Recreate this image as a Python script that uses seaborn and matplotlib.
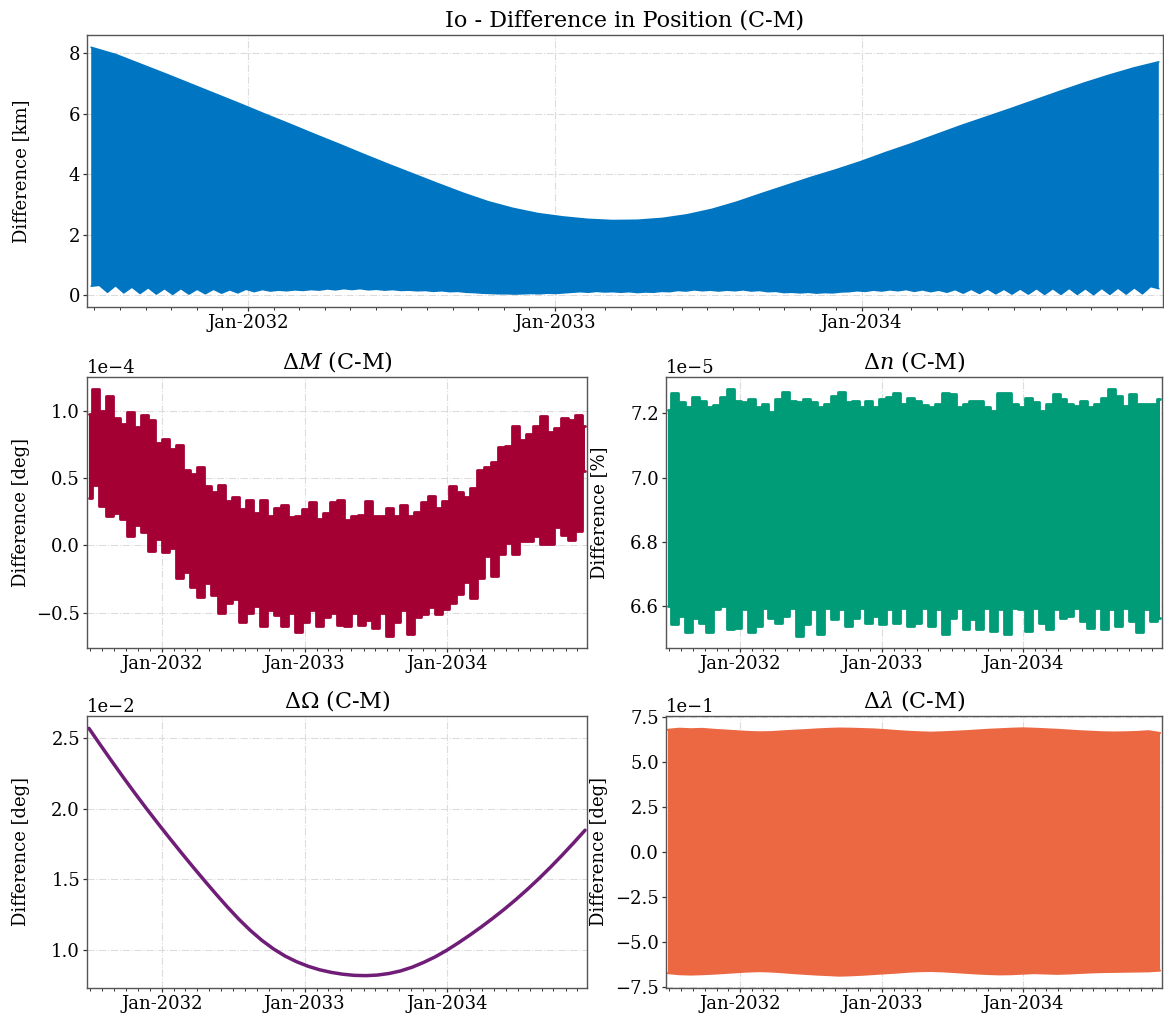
import numpy as np
import pandas as pd
import matplotlib
matplotlib.use("Agg")
import matplotlib.pyplot as plt
import matplotlib.dates as mdates
import seaborn as sns

# ---------------- data ----------------
START, END = "2031-06-28", "2034-12-21"

# Position difference [km]: upper envelope and lower envelope of the fast oscillation
pos_upper = [8.20, 7.96, 7.64, 7.32, 6.99, 6.66, 6.33, 5.99, 5.66, 5.32,
             4.99, 4.65, 4.32, 4.00, 3.68, 3.37, 3.09, 2.87, 2.70, 2.59,
             2.51, 2.47, 2.48, 2.54, 2.66, 2.84, 3.08, 3.36, 3.63, 3.90,
             4.15, 4.42, 4.72, 5.00, 5.30, 5.60, 5.88, 6.16, 6.45, 6.74,
             7.02, 7.28, 7.52, 7.72]
pos_lower = [0.30, 0.33, 0.10, 0.32, 0.08, 0.27, 0.06, 0.25, 0.04, 0.22,
             0.03, 0.22, 0.04, 0.20, 0.05, 0.20, 0.07, 0.18, 0.08, 0.20,
             0.12, 0.19, 0.14, 0.17, 0.15, 0.18, 0.16, 0.19, 0.17, 0.21,
             0.18, 0.22, 0.19, 0.22, 0.18, 0.20, 0.17, 0.19, 0.16, 0.17,
             0.15, 0.16, 0.13, 0.15, 0.12, 0.13, 0.10, 0.09, 0.07, 0.06,
             0.05, 0.05, 0.04, 0.05, 0.06, 0.05, 0.07, 0.06, 0.08, 0.10,
             0.12, 0.10, 0.13, 0.11, 0.12, 0.10, 0.12, 0.09, 0.11, 0.10,
             0.13, 0.12, 0.16, 0.14, 0.18, 0.15, 0.17, 0.14, 0.17, 0.15,
             0.18, 0.14, 0.16, 0.12, 0.13, 0.09, 0.10, 0.08, 0.10, 0.07,
             0.09, 0.08, 0.11, 0.12, 0.15, 0.13, 0.17, 0.14, 0.18, 0.15,
             0.19, 0.13, 0.18, 0.12, 0.17, 0.10, 0.19, 0.07, 0.20, 0.06,
             0.21, 0.05, 0.20, 0.04, 0.21, 0.04, 0.22, 0.03, 0.22, 0.03,
             0.23, 0.03, 0.22, 0.02, 0.23, 0.03, 0.24, 0.04, 0.25, 0.05,
             0.29, 0.22]

# Delta M [1e-4 deg]
dM_upper = [0.98, 1.16, 1.00, 1.11, 0.95, 0.90, 0.99, 0.88, 0.97, 0.93,
            0.76, 0.79, 0.72, 0.75, 0.56, 0.53, 0.58, 0.44, 0.40, 0.45,
            0.33, 0.36, 0.27, 0.34, 0.24, 0.34, 0.22, 0.28, 0.30, 0.21,
            0.22, 0.27, 0.32, 0.20, 0.24, 0.32, 0.34, 0.19, 0.22, 0.23,
            0.33, 0.22, 0.22, 0.28, 0.22, 0.30, 0.22, 0.25, 0.32, 0.37,
            0.28, 0.33, 0.44, 0.40, 0.36, 0.43, 0.56, 0.58, 0.62, 0.73,
            0.74, 0.89, 0.78, 0.83, 0.89, 0.96, 0.84, 0.87, 0.95, 0.93,
            0.97, 0.89]
dM_lower = [0.35, 0.45, 0.29, 0.22, 0.24, 0.20, 0.07, 0.15, 0.10, -0.04,
            0.05, -0.05, -0.02, -0.24, -0.20, -0.31, -0.38, -0.28, -0.37, -0.50,
            -0.43, -0.40, -0.57, -0.50, -0.45, -0.60, -0.48, -0.52, -0.60, -0.50,
            -0.64, -0.57, -0.48, -0.60, -0.53, -0.50, -0.59, -0.60, -0.50, -0.59,
            -0.55, -0.61, -0.50, -0.67, -0.57, -0.48, -0.66, -0.53, -0.51, -0.46,
            -0.51, -0.47, -0.43, -0.36, -0.27, -0.39, -0.24, -0.08, -0.23, -0.06,
            0.02, -0.06, 0.03, 0.035, 0.07, 0.01, 0.01, 0.14, 0.08, 0.04,
            0.105, 0.55]

# Delta n [1e-5 %]
dn_upper = [7.21, 7.265, 7.234, 7.22, 7.25, 7.24, 7.219, 7.225, 7.25, 7.275,
            7.24, 7.234, 7.244, 7.22, 7.229, 7.203, 7.244, 7.268, 7.239, 7.234,
            7.244, 7.234, 7.22, 7.229, 7.255, 7.268, 7.234, 7.239, 7.22, 7.239,
            7.219, 7.244, 7.25, 7.265, 7.229, 7.249, 7.239, 7.225, 7.219, 7.23,
            7.265, 7.26, 7.219, 7.23, 7.239, 7.239, 7.22, 7.208, 7.265, 7.265,
            7.23, 7.219, 7.249, 7.234, 7.208, 7.23, 7.26, 7.244, 7.23, 7.224,
            7.239, 7.22, 7.229, 7.249, 7.275, 7.255, 7.224, 7.26, 7.23, 7.229,
            7.229, 7.244]
dn_lower = [6.60, 6.544, 6.569, 6.518, 6.564, 6.549, 6.52, 6.59, 6.60, 6.528,
            6.533, 6.59, 6.518, 6.538, 6.595, 6.564, 6.549, 6.569, 6.595, 6.508,
            6.544, 6.59, 6.513, 6.595, 6.559, 6.59, 6.538, 6.564, 6.595, 6.549,
            6.569, 6.544, 6.59, 6.549, 6.595, 6.538, 6.549, 6.595, 6.538, 6.59,
            6.513, 6.564, 6.595, 6.528, 6.559, 6.528, 6.595, 6.523, 6.59, 6.513,
            6.595, 6.59, 6.523, 6.595, 6.549, 6.528, 6.59, 6.564, 6.569, 6.595,
            6.554, 6.533, 6.595, 6.528, 6.59, 6.538, 6.595, 6.554, 6.518, 6.59,
            6.554, 6.564]

# Delta Omega [1e-2 deg]
dOmega = [2.565, 2.447, 2.331, 2.217, 2.106, 1.998, 1.893, 1.790, 1.689, 1.590,
          1.493, 1.398, 1.306, 1.219, 1.140, 1.070, 1.010, 0.960, 0.920, 0.888,
          0.863, 0.845, 0.832, 0.824, 0.822, 0.826, 0.837, 0.855, 0.881, 0.915,
          0.954, 1.000, 1.052, 1.107, 1.165, 1.226, 1.290, 1.358, 1.430, 1.506,
          1.586, 1.670, 1.757, 1.847]

# Delta lambda [1e-1 deg]
dlam_upper = [6.80, 6.86, 6.83, 6.85, 6.80, 6.76, 6.72, 6.68, 6.66, 6.67,
              6.71, 6.75, 6.78, 6.82, 6.85, 6.87, 6.86, 6.84, 6.82, 6.78,
              6.73, 6.69, 6.66, 6.64, 6.66, 6.69, 6.72, 6.76, 6.80, 6.83,
              6.86, 6.88, 6.86, 6.83, 6.80, 6.76, 6.72, 6.69, 6.66, 6.65,
              6.66, 6.68, 6.72, 6.62]
dlam_lower = [-6.74, -6.80, -6.82, -6.80, -6.77, -6.73, -6.69, -6.65, -6.63, -6.65,
              -6.69, -6.74, -6.78, -6.82, -6.85, -6.88, -6.86, -6.83, -6.79, -6.75,
              -6.71, -6.66, -6.63, -6.62, -6.64, -6.68, -6.72, -6.76, -6.79, -6.81,
              -6.80, -6.77, -6.74, -6.76, -6.78, -6.76, -6.73, -6.70, -6.68, -6.67,
              -6.66, -6.65, -6.64, -6.60]

TITLES = ["Io - Difference in Position (C-M)", r"$\Delta M$ (C-M)", r"$\Delta n$ (C-M)",
          r"$\Delta\Omega$ (C-M)", r"$\Delta\lambda$ (C-M)"]
YLABELS = ["Difference [km]", "Difference [deg]", "Difference [%]",
           "Difference [deg]", "Difference [deg]"]
COLORS = ["#0076C2", "#A50034", "#009B77", "#6F1D77", "#EC6842"]

# ---------------- style ----------------
sns.set_theme(style="white")
plt.rcParams.update({
    "font.family": ["DejaVu Serif"],
    "mathtext.fontset": "dejavuserif",
    "axes.titlesize": 16,
    "axes.labelsize": 13,
    "xtick.labelsize": 13,
    "ytick.labelsize": 13,
    "axes.edgecolor": "#555555",
    "axes.linewidth": 1.0,
    "xtick.bottom": True,
    "ytick.left": True,
    "xtick.color": "#333333",
    "ytick.color": "#333333",
    "xtick.labelcolor": "black",
    "ytick.labelcolor": "black",
    "text.color": "black",
    "axes.labelcolor": "black",
})


def grid(n):
    return pd.date_range(START, END, periods=n)


def envelope(ax, up, lo, color, lw, scale=1.0):
    t_up, t_lo = grid(len(up)), grid(len(lo))
    yu = np.asarray(up, float) * scale
    yl = np.asarray(lo, float) * scale
    sns.lineplot(x=t_up, y=yu, ax=ax, color=color, lw=lw)
    sns.lineplot(x=t_lo, y=yl, ax=ax, color=color, lw=lw)
    xs = np.concatenate([mdates.date2num(t_up), mdates.date2num(t_lo)[::-1]])
    ys = np.concatenate([yu, yl[::-1]])
    ax.fill(xs, ys, color=color, lw=0)


def spiky(ax, up, lo, color, lw, scale):
    t = grid(len(up))
    yu = np.asarray(up, float) * scale
    yl = np.asarray(lo, float) * scale
    sns.lineplot(x=t, y=yu, ax=ax, color=color, lw=lw, drawstyle="steps-mid")
    sns.lineplot(x=t, y=yl, ax=ax, color=color, lw=lw, drawstyle="steps-mid")
    ax.fill_between(mdates.date2num(t), yl, yu, step="mid", color=color, lw=0)


W, H = 1164, 1016
fig = plt.figure(figsize=(W / 100, H / 100), dpi=100)


def rect(l, t, r, b):
    return [l / W, 1 - b / H, (r - l) / W, (b - t) / H]


ax0 = fig.add_axes(rect(87, 35, 1163, 307))
ax1 = fig.add_axes(rect(87, 377, 587, 648))
ax2 = fig.add_axes(rect(666, 377, 1162, 648))
ax3 = fig.add_axes(rect(87, 716, 587, 988))
ax4 = fig.add_axes(rect(666, 716, 1162, 988))
axes = [ax0, ax1, ax2, ax3, ax4]

envelope(ax0, pos_upper, pos_lower, COLORS[0], 1.2)
spiky(ax1, dM_upper, dM_lower, COLORS[1], 2.0, 1e-4)
spiky(ax2, dn_upper, dn_lower, COLORS[2], 2.0, 1e-5)
sns.lineplot(x=grid(len(dOmega)), y=np.asarray(dOmega) * 1e-2, ax=ax3,
             color=COLORS[3], lw=2.5)
envelope(ax4, dlam_upper, dlam_lower, COLORS[4], 1.5, 1e-1)

t0 = pd.Timestamp(START) - pd.Timedelta(days=5)
t1 = pd.Timestamp(END) + pd.Timedelta(days=5)

# x position (px) of the right edge of the y-labels, aligned per column
label_right = [30, 30, 608, 30, 608]
ax_left = [87, 87, 666, 87, 666]
ax_width = [1076, 500, 496, 500, 496]

for i, ax in enumerate(axes):
    ax.set_title(TITLES[i])
    ax.set_ylabel(YLABELS[i])
    ax.set_xlabel("")
    ax.set_xlim(t0, t1)
    ax.xaxis.set_major_locator(mdates.YearLocator())
    ax.xaxis.set_major_formatter(mdates.DateFormatter("%b-%Y"))
    ax.xaxis.set_minor_locator(mdates.MonthLocator())
    ax.tick_params(axis="both", which="major", length=3, width=0.9,
                   direction="out", pad=2)
    ax.tick_params(axis="x", which="minor", length=2, width=0.7, direction="out")
    ax.grid(True, which="major", ls="-.", color="#dcdcdc", lw=0.8)
    ax.set_axisbelow(True)
    for s in ax.spines.values():
        s.set_visible(True)
        s.set_color("#555555")
    if i > 0:
        ax.ticklabel_format(axis="y", style="sci", scilimits=(0, 0))
    ax.yaxis.set_label_coords((label_right[i] - ax_left[i]) / ax_width[i], 0.5)

fig.savefig("out.png", dpi=100)
